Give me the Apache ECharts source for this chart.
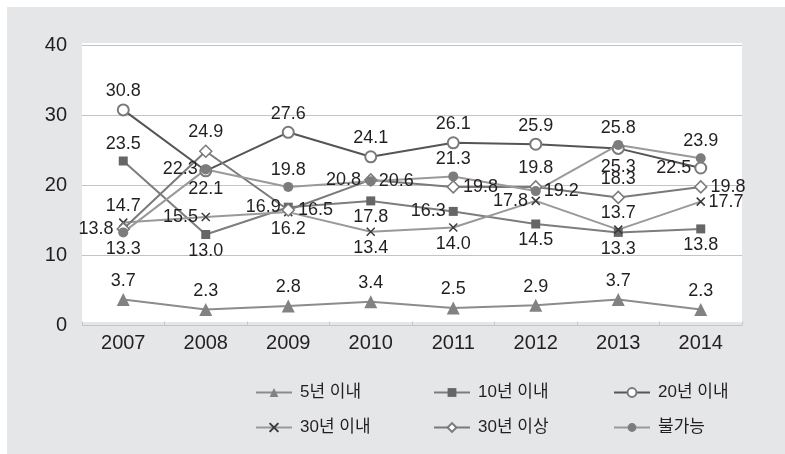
<!DOCTYPE html>
<html>
<head>
<meta charset="utf-8">
<script src="https://cdn.jsdelivr.net/npm/echarts@6/dist/echarts.min.js"></script>
<style>
  html, body { margin: 0; padding: 0; background: #ffffff; }
  #panel { position: absolute; left: 7px; top: 7px; width: 778px; height: 447px; background: #e5e6e7; }
  #plotbg { position: absolute; left: 82px; top: 43px; width: 660px; height: 279px; background: #ffffff; }
  #main { position: absolute; left: 0; top: 0; width: 785px; height: 454px; }
</style>
</head>
<body>
<div id="panel"></div>
<div id="plotbg"></div>
<div id="main"></div>
<script>
// ---- data ----
const years = ['2007', '2008', '2009', '2010', '2011', '2012', '2013', '2014'];
const yTicks = [0, 10, 20, 30, 40];
const seriesNames = ['5년 이내', '10년 이내', '20년 이내', '30년 이내', '30년 이상', '불가능'];
const within5  = [3.7, 2.3, 2.8, 3.4, 2.5, 2.9, 3.7, 2.3];
const within10 = [23.5, 13.0, 16.9, 17.8, 16.3, 14.5, 13.3, 13.8];
const within20 = [30.8, 22.1, 27.6, 24.1, 26.1, 25.9, 25.3, 22.5];
const within30 = [14.7, 15.5, 16.2, 13.4, 14.0, 17.8, 13.7, 17.7];
const over30   = [13.8, 24.9, 16.5, 20.8, 19.8, 19.8, 18.3, 19.8];
const impossible = [13.3, 22.3, 19.8, 20.6, 21.3, 19.2, 25.8, 23.9];

// ---- label placement (style) ----
const lp5   = ['top','top','top','top','top','top','top','top'];
const lp10  = ['top','bottom','left','bottom','left','bottom','bottom','bottom'];
const lp20  = ['top','bottom','top','top','top','top','bottom','left'];
const lp30  = ['top','left','bottom','bottom','bottom','left','top','right'];
const lpO30 = ['left','top','right','left','right','top','top','right'];
const lpImp = ['bottom','left','top','right','top','right','top','top'];

const FONT = '"Liberation Sans", Arial, "Noto Sans CJK KR", sans-serif';
const TXT = '#231f20';

function withLabels(values, positions) {
  return values.map((v, i) => ({ value: v, label: { position: positions[i] } }));
}

function mkSeries(name, values, positions, opts) {
  return Object.assign({
    name: name,
    type: 'line',
    data: withLabels(values, positions),
    label: {
      show: true, fontSize: 18, color: TXT, fontFamily: FONT, distance: 3,
      formatter: p => Number(p.value).toFixed(1)
    },
    emphasis: { disabled: true },
    animation: false
  }, opts);
}

const series = [
  mkSeries(seriesNames[0], within5, lp5, {
    symbol: 'triangle', symbolSize: 13,
    lineStyle: { color: '#8c8c8c', width: 2 },
    itemStyle: { color: '#828282' }
  }),
  mkSeries(seriesNames[1], within10, lp10, {
    symbol: 'rect', symbolSize: 9,
    lineStyle: { color: '#7d7d7d', width: 2 },
    itemStyle: { color: '#666666' }
  }),
  mkSeries(seriesNames[2], within20, lp20, {
    symbol: 'circle', symbolSize: 11,
    lineStyle: { color: '#555555', width: 2 },
    itemStyle: { color: '#ffffff', borderColor: '#7a7a7a', borderWidth: 2 }
  }),
  mkSeries(seriesNames[3], within30, lp30, {
    symbol: 'path://M0,0L10,10M10,0L0,10', symbolSize: 8,
    lineStyle: { color: '#999999', width: 2 },
    itemStyle: { color: '#3a3a3a', borderColor: '#3a3a3a', borderWidth: 1.5 }
  }),
  mkSeries(seriesNames[4], over30, lpO30, {
    symbol: 'diamond', symbolSize: 12,
    lineStyle: { color: '#7a7a7a', width: 2 },
    itemStyle: { color: '#ffffff', borderColor: '#7a7a7a', borderWidth: 1.5 }
  }),
  mkSeries(seriesNames[5], impossible, lpImp, {
    symbol: 'circle', symbolSize: 10,
    lineStyle: { color: '#9a9a9a', width: 2 },
    itemStyle: { color: '#7c7c7c' }
  })
];

// legend cells: 3 columns x 2 rows
const legendCols = [255, 433, 613];
const legendRows = [384, 419];
const legends = seriesNames.map((n, i) => ({
  data: [n],
  left: legendCols[i % 3],
  top: legendRows[Math.floor(i / 3)],
  padding: 0,
  itemWidth: 36,
  itemHeight: 11,
  selectedMode: false,
  textStyle: { fontSize: 17, color: TXT, fontFamily: FONT, padding: [0, 0, 0, 3] }
}));

const chart = echarts.init(document.getElementById('main'), null, { renderer: 'canvas' });
chart.setOption({
  backgroundColor: 'transparent',
  animation: false,
  textStyle: { fontFamily: FONT },
  grid: { left: 82, top: 45.5, width: 660, height: 280, containLabel: false },
  legend: legends,
  xAxis: {
    type: 'category',
    data: years,
    boundaryGap: true,
    axisLine: { show: false },
    axisTick: { show: true, inside: true, length: 4, lineStyle: { color: '#c8c8c8' } },
    axisLabel: { fontSize: 20, color: TXT, margin: 8, fontFamily: FONT },
    splitLine: { show: false }
  },
  yAxis: {
    type: 'value',
    min: yTicks[0],
    max: yTicks[yTicks.length - 1],
    interval: 10,
    axisLine: { show: false },
    axisTick: { show: false },
    axisLabel: { fontSize: 20, color: TXT, margin: 15, fontFamily: FONT, padding: [0, 0, 8, 0] },
    splitLine: { show: true, lineStyle: { color: '#c4c4c4', width: 1.2 } }
  },
  series: series
});
</script>
</body>
</html>
